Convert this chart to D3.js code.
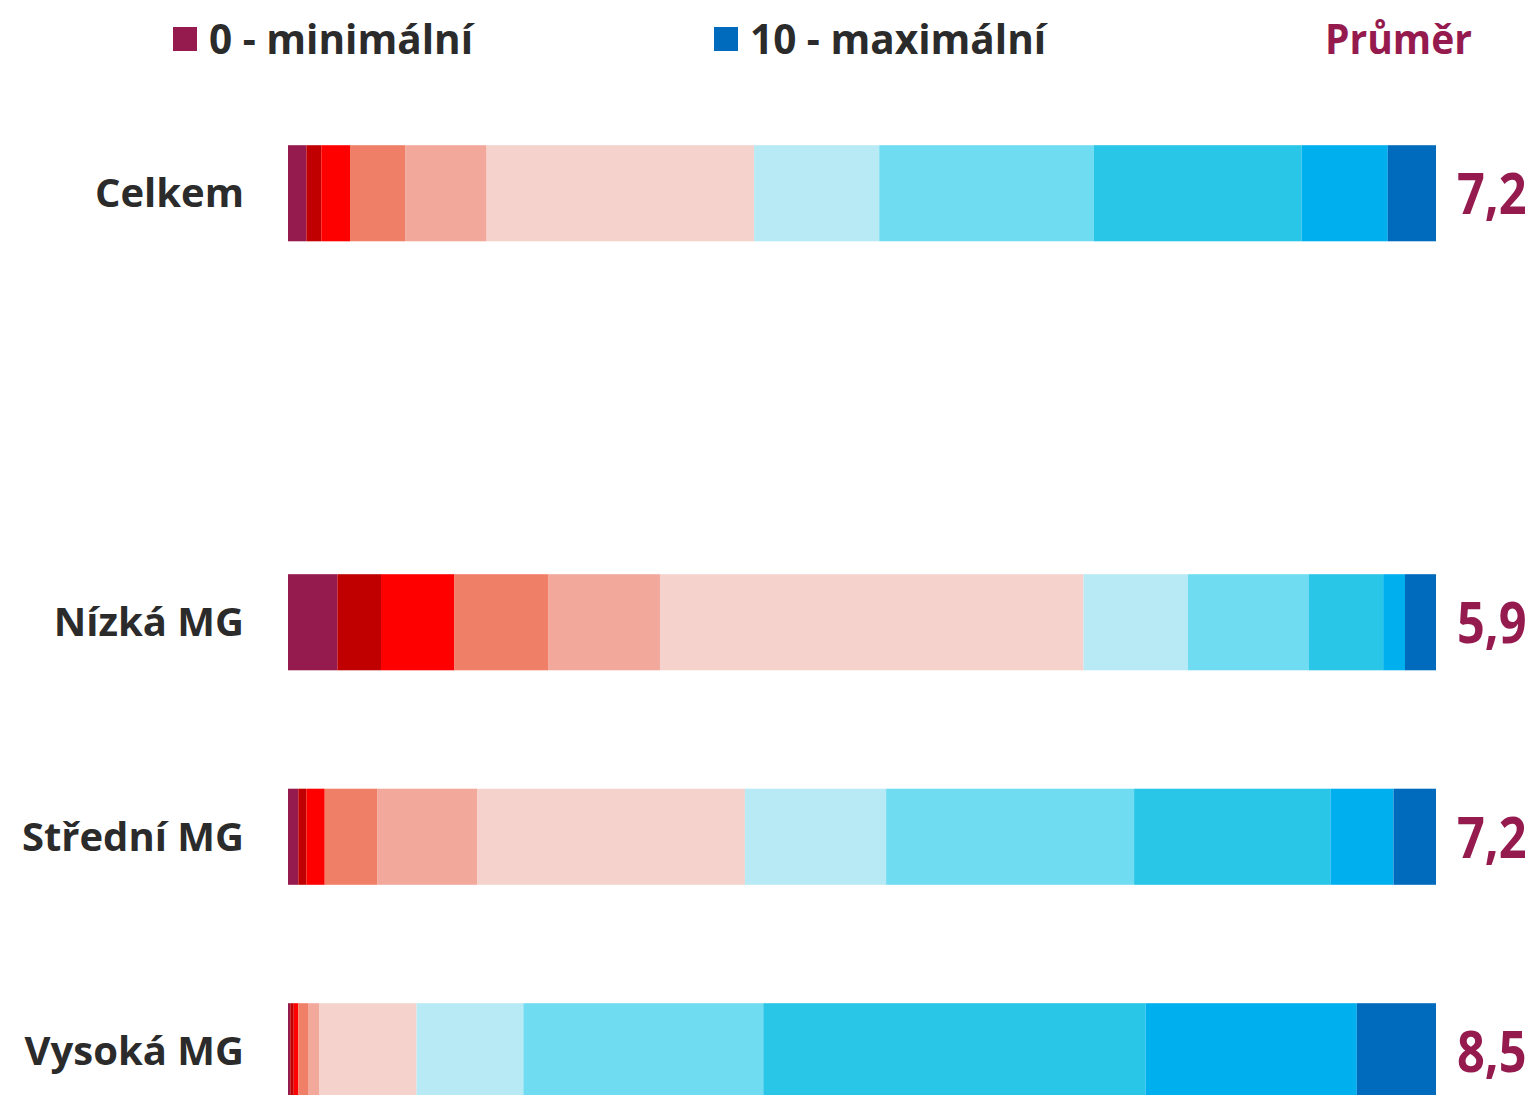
<!DOCTYPE html>
<html>
<head>
<meta charset="utf-8">
<script src="https://cdn.jsdelivr.net/npm/d3@7"></script>
<style>
  html, body { margin: 0; padding: 0; background: #ffffff; }
  svg { display: block; }
</style>
</head>
<body>
<div id="chart"></div>
<script>
// DATA
var categories = ["Celkem", "", "Nízká MG", "Střední MG", "Vysoká MG"];
var grades = ["0", "1", "2", "3", "4", "5", "6", "7", "8", "9", "10"];
// share of answers per grade 0..10, in %
var celkem  = [1.6, 1.3, 2.5, 4.8, 7.1, 23.3, 10.9, 18.7, 18.1, 7.5, 4.2];
var nizka   = [4.3, 3.8, 6.4, 8.2, 9.7, 36.9, 9.1, 10.5, 6.5, 1.9, 2.7];
var stredni = [0.9, 0.7, 1.6, 4.6, 8.7, 23.3, 12.3, 21.6, 17.1, 5.5, 3.7];
var vysoka  = [0.2, 0.3, 0.4, 0.9, 0.9, 8.5, 9.3, 20.9, 33.3, 18.4, 6.9];
var means   = ["7,2", "", "5,9", "7,2", "8,5"];
var legendLabels = ["0 - minimální", "10 - maximální"];
var meanTitle = "Průměr";

// COLORS and FONTS
var colors = ["#951b4f", "#c00000", "#ff0000", "#f07f67", "#f2a89b", "#f5d2cc",
              "#b8eaf5", "#6fdcf2", "#29c6e7", "#00b0ee", "#006bbd"];
var textColor = "#2b2b2b";
var meanColor = "#951b4f";
var fontFamily = "'Open Sans', 'Noto Sans', Arial, sans-serif";

var width = 1536, height = 1095;

var rows = [celkem, null, nizka, stredni, vysoka];
var table = categories.map(function(c, i) {
  var row = { category: c };
  grades.forEach(function(g, j) { row[g] = rows[i] ? rows[i][j] : 0; });
  return row;
});

var svg = d3.select("#chart").append("svg")
  .attr("width", width)
  .attr("height", height)
  .attr("viewBox", `0 0 ${width} ${height}`);

var x = d3.scaleLinear().domain([0, 100]).range([288, 1436]);
var y = d3.scaleBand().domain(categories)
  .range([86, 1158.5])
  .paddingInner(0.552)
  .paddingOuter(0.276);

var series = d3.stack().keys(grades)(table);

// BARS
svg.append("g")
  .selectAll("g")
  .data(series)
  .join("g")
    .attr("fill", function(d, i) { return colors[i]; })
  .selectAll("rect")
  .data(function(d) { return d.filter(function(s) { return s.data.category !== ""; }); })
  .join("rect")
    .attr("x", function(d) { return x(d[0]); })
    .attr("width", function(d) { return x(d[1]) - x(d[0]); })
    .attr("y", function(d) { return y(d.data.category); })
    .attr("height", y.bandwidth());

// CATEGORY LABELS
svg.append("g")
  .selectAll("text")
  .data(categories.filter(function(c) { return c !== ""; }))
  .join("text")
    .attr("x", 244)
    .attr("y", function(d) { return y(d) + y.bandwidth() / 2; })
    .attr("dy", ".35em")
    .attr("text-anchor", "end")
    .attr("font-family", fontFamily)
    .attr("font-weight", "bold")
    .attr("font-size", 40)
    .attr("fill", textColor)
    .text(function(d) { return d; });

// MEAN LABELS
svg.append("g")
  .selectAll("text")
  .data(categories.map(function(c, i) { return { c: c, m: means[i] }; })
    .filter(function(d) { return d.c !== ""; }))
  .join("text")
    .attr("transform", function(d) {
      return `translate(1457, ${y(d.c) + y.bandwidth() / 2}) scale(0.84, 1)`;
    })
    .attr("dy", ".36em")
    .attr("font-family", fontFamily)
    .attr("font-weight", "bold")
    .attr("font-size", 58)
    .attr("fill", meanColor)
    .text(function(d) { return d.m; });

// LEGEND
var legend = [
  { label: legendLabels[0], color: colors[0], x: 173 },
  { label: legendLabels[1], color: colors[10], x: 714 }
];
var lg = svg.append("g")
  .selectAll("g")
  .data(legend)
  .join("g")
    .attr("transform", function(d) { return `translate(${d.x}, 0)`; });
lg.append("rect")
  .attr("x", 0).attr("y", 27)
  .attr("width", 24).attr("height", 24)
  .attr("fill", function(d) { return d.color; });
lg.append("text")
  .attr("transform", "translate(36, 54) scale(0.965, 1)")
  .attr("font-family", fontFamily)
  .attr("font-weight", "bold")
  .attr("font-size", 42)
  .attr("fill", textColor)
  .text(function(d) { return d.label; });

svg.append("text")
  .attr("transform", "translate(1472, 54) scale(0.93, 1)")
  .attr("text-anchor", "end")
  .attr("font-family", fontFamily)
  .attr("font-weight", "bold")
  .attr("font-size", 42)
  .attr("fill", meanColor)
  .text(meanTitle);
</script>
</body>
</html>
